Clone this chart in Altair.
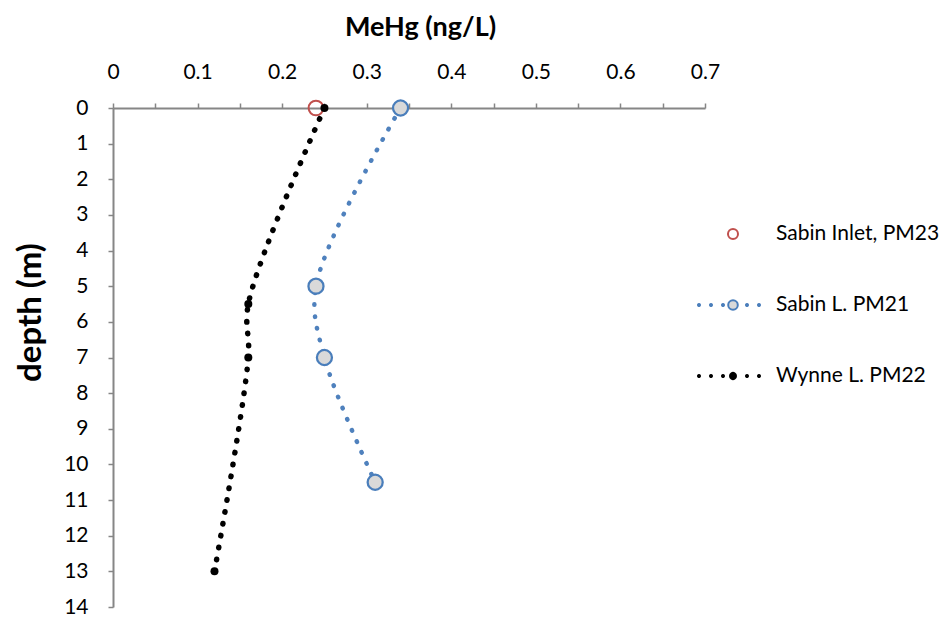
import altair as alt
import pandas as pd

# ---------------- data ----------------
series_names = ["Sabin Inlet, PM23", "Sabin L. PM21", "Wynne L. PM22"]

inlet_mehg = [0.24]
inlet_depth = [0]

sabin_mehg = [0.34, 0.24, 0.25, 0.31]
sabin_depth = [0, 5, 7, 10.5]

wynne_mehg = [0.25, 0.16, 0.16, 0.12]
wynne_depth = [0, 5.5, 7, 13]

x_tick_values = [0, 0.05, 0.1, 0.15, 0.2, 0.25, 0.3, 0.35, 0.4, 0.45, 0.5, 0.55, 0.6, 0.65, 0.7]
y_tick_values = [0, 1, 2, 3, 4, 5, 6, 7, 8, 9, 10, 11, 12, 13, 14]

rows = []
for name, xs, ys in [
    (series_names[0], inlet_mehg, inlet_depth),
    (series_names[1], sabin_mehg, sabin_depth),
    (series_names[2], wynne_mehg, wynne_depth),
]:
    for xv, yv in zip(xs, ys):
        rows.append({"series": name, "mehg": xv, "depth": yv})
df = pd.DataFrame(rows)

# ---------------- styles ----------------
FONT = "Lato"
AXIS_GRAY = "#868686"
RED = "#c0504d"
BLUE = "#4a7ebb"
BLUE_LINE = "#4f81bd"
GRAY_FILL = "#d9d9d9"

x_axis = alt.Axis(
    orient="top",
    values=x_tick_values,
    labelExpr="round(datum.value*20) % 2 == 0 ? format(datum.value, '.1~f') : ''",
    labelFlush=False,
    labelOverlap=False,
    labelFont=FONT,
    labelFontSize=21,
    labelColor="black",
    labelPadding=25,
    labelBaseline="alphabetic",
    tickSize=5,
    tickColor=AXIS_GRAY,
    tickWidth=1.5,
    domainColor=AXIS_GRAY,
    domainWidth=2,
    grid=False,
    title="MeHg (ng/L)",
    titleFont=FONT,
    titleFontSize=27,
    titleFontWeight="bold",
    titleColor="black",
    titleX=307,
    titleY=-73,
    titleBaseline="alphabetic",
    titleAlign="center",
)

y_axis = alt.Axis(
    orient="left",
    values=y_tick_values,
    labelFont=FONT,
    labelFontSize=21,
    labelColor="black",
    labelPadding=20,
    labelOverlap=False,
    labelFlush=False,
    tickSize=5,
    tickColor=AXIS_GRAY,
    tickWidth=1.5,
    domainColor=AXIS_GRAY,
    domainWidth=2,
    grid=False,
    title="depth (m)",
    titleFont=FONT,
    titleFontSize=33,
    titleFontWeight="bold",
    titleColor="black",
    titleX=-83,
    titleY=204,
    titleAngle=270,
    titleBaseline="middle",
    titleAlign="center",
)

x_enc = alt.X("mehg:Q", scale=alt.Scale(domain=[0, 0.7], nice=False, zero=False), axis=x_axis)
y_enc = alt.Y("depth:Q", scale=alt.Scale(domain=[0, 14], nice=False, reverse=True), axis=y_axis)

base = alt.Chart(df).encode(x=x_enc, y=y_enc)

inlet_pts = base.transform_filter(alt.datum.series == series_names[0]).mark_point(
    shape="circle", size=216, filled=False, stroke=RED, strokeWidth=2, opacity=1
)

sabin_line = base.transform_filter(alt.datum.series == series_names[1]).mark_line(
    interpolate="catmull-rom", color=BLUE_LINE, strokeWidth=4.5,
    strokeDash=[0.5, 11.5], strokeCap="round"
).encode(order="depth:Q")

sabin_pts = base.transform_filter(alt.datum.series == series_names[1]).mark_point(
    shape="circle", size=227, filled=True, fill=GRAY_FILL, stroke=BLUE,
    strokeWidth=2.25, opacity=1
)

wynne_line = base.transform_filter(alt.datum.series == series_names[2]).mark_line(
    interpolate="catmull-rom", color="black", strokeWidth=5.5,
    strokeDash=[0.5, 11.5], strokeCap="round"
).encode(order="depth:Q")

wynne_pts = base.transform_filter(alt.datum.series == series_names[2]).mark_circle(
    size=64, color="black", opacity=1
)


# ---------------- legend (custom symbols, legend-only layer) ----------------
U = 31.0  # px per symbol unit (symbol size 62x62)


def circ(cx, cy, r):
    cx, cy, r = cx / U, cy / U, r / U
    return (f"M{cx - r:.4f},{cy:.4f}A{r:.4f},{r:.4f} 0 1,0 {cx + r:.4f},{cy:.4f}"
            f"A{r:.4f},{r:.4f} 0 1,0 {cx - r:.4f},{cy:.4f}Z")


dots = "".join(circ(d, 0, 1.0) for d in [-30, -18, -6, 18, 30])
path_inlet = circ(4, 0, 5)
path_sabin = dots + circ(4, 0, 4.8)
path_wynne = dots + circ(4, 0, 3)

legend = alt.Legend(
    title=None,
    orient="none",
    legendX=584,
    legendY=94,
    padding=0,
    symbolSize=3844,
    symbolStrokeWidth=2,
    labelFont=FONT,
    labelFontSize=21,
    labelColor="black",
    labelOffset=15,
    labelLimit=400,
    rowPadding=29,
)

legend_layer = base.transform_filter("false").mark_point(
    filled=True, opacity=1, strokeWidth=2, size=3844
).encode(
    shape=alt.Shape("series:N", scale=alt.Scale(domain=series_names,
                    range=[path_inlet, path_sabin, path_wynne]), legend=legend),
    fill=alt.Fill("series:N", scale=alt.Scale(domain=series_names,
                  range=["transparent", GRAY_FILL, "black"]), legend=legend),
    stroke=alt.Stroke("series:N", scale=alt.Scale(domain=series_names,
                      range=[RED, BLUE, "black"]), legend=legend),
)

chart = alt.layer(
    inlet_pts, sabin_line, sabin_pts, wynne_line, wynne_pts, legend_layer
).properties(
    width=592,
    height=499,
    autosize=alt.AutoSizeParams(type="none"),
    padding={"left": 105, "top": 100, "right": 234, "bottom": 10},
).configure_view(stroke=None)

chart.save("out.html", embed_options={"renderer": "svg", "actions": False})
